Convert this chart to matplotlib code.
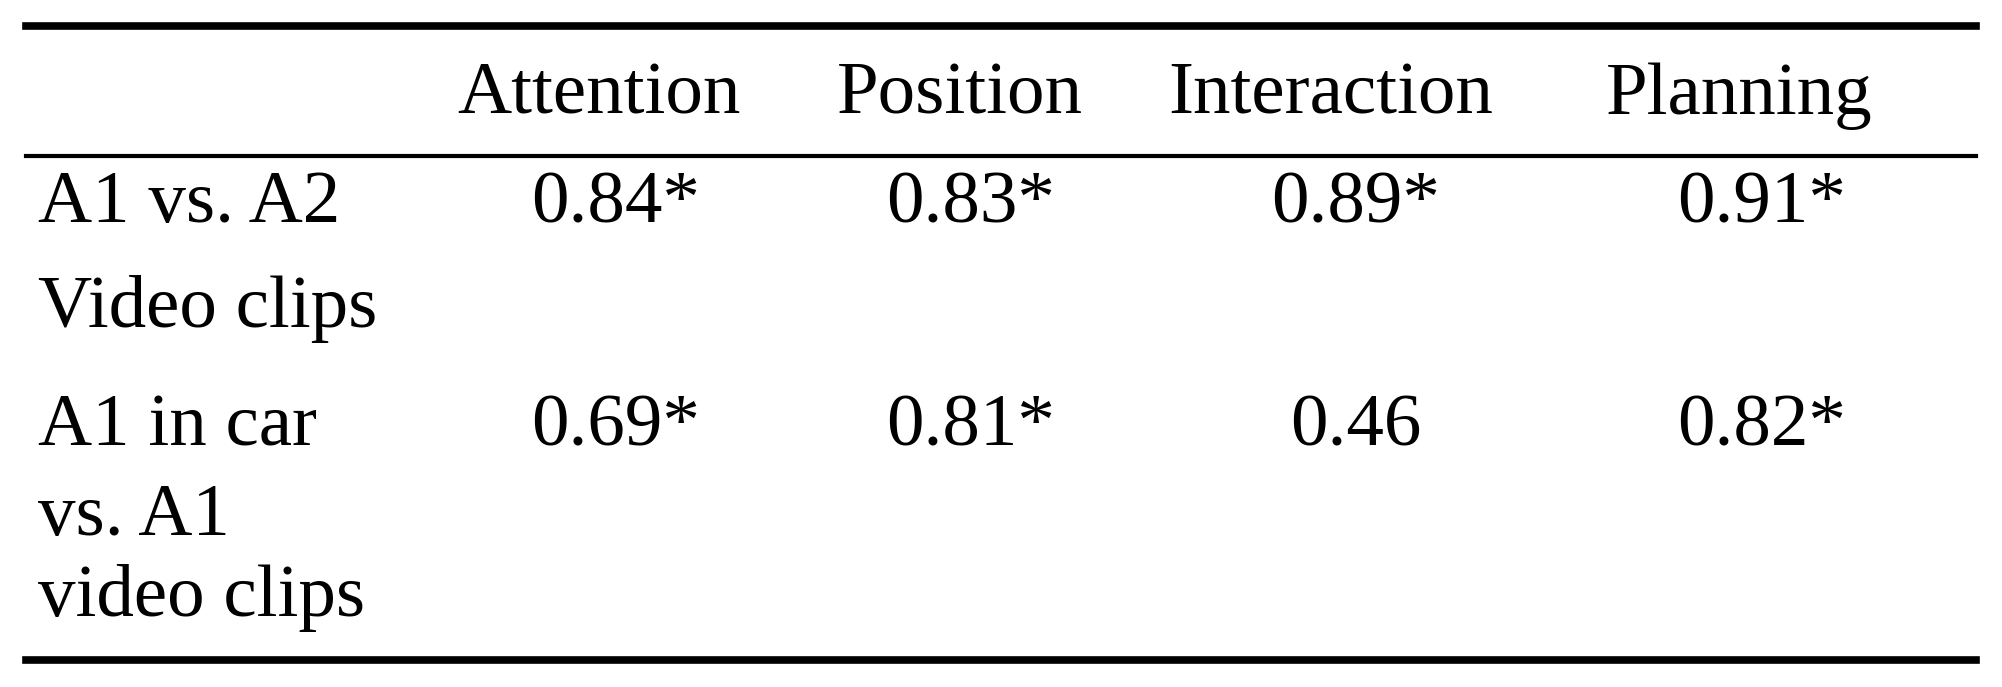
import matplotlib.pyplot as plt

columns = ['Attention', 'Position', 'Interaction', 'Planning']
row_labels = [['A1 vs. A2', 'Video clips'],
              ['A1 in car', 'vs. A1', 'video clips']]
values = [['0.84*', '0.83*', '0.89*', '0.91*'],
          ['0.69*', '0.81*', '0.46', '0.82*']]

W, H = 1568, 538  # layout grid in reference pixels
fig = plt.figure(figsize=(20.02, 6.87), dpi=100)
plt.rcParams['font.family'] = ['Liberation Serif', 'DejaVu Serif']
fs = 54

def fx(x):
    return x / W

def fy(y):
    return 1 - y / H

# rules
for y, lw in [(20, 5.5), (122, 3), (517, 5.5)]:
    fig.add_artist(plt.Line2D([fx(20), fx(1548)], [fy(y), fy(y)], color='black', lw=lw))

col_x = [469, 752, 1042, 1362]
val_x = [482, 760, 1062, 1380]
for x, c in zip(col_x, columns):
    fig.text(fx(x), fy(75), c, ha='center', va='center', fontsize=fs)

row_y = [[160, 242], [335, 405, 468]]
for lines, ys in zip(row_labels, row_y):
    for t, y in zip(lines, ys):
        fig.text(fx(30), fy(y), t, ha='left', va='center', fontsize=fs)

for vals, ys in zip(values, row_y):
    for x, v in zip(val_x, vals):
        fig.text(fx(x), fy(ys[0]), v, ha='center', va='center', fontsize=fs)

fig.savefig('out.png', dpi=100, facecolor='white')
